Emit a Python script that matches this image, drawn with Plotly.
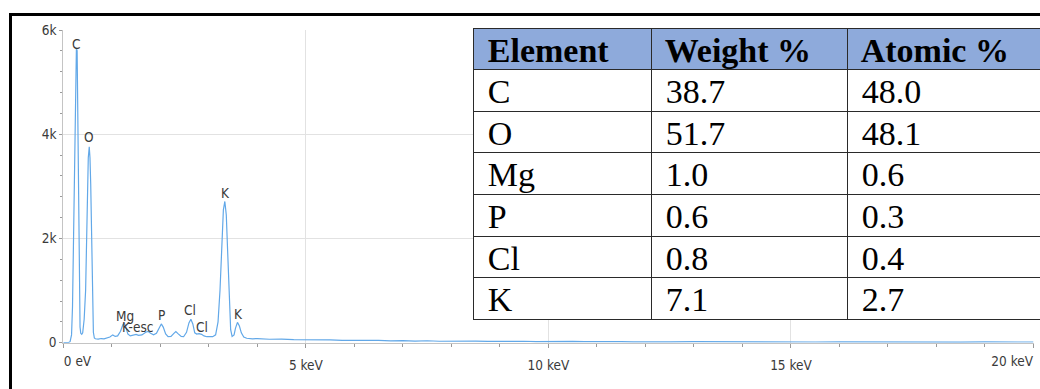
import plotly.graph_objects as go

# ---------------- data ----------------
energy_kev = [0.00, 0.05, 0.10, 0.14, 0.17, 0.19, 0.21, 0.23, 0.25, 0.27, 0.285, 0.30, 0.315, 0.33, 0.345,
              0.36, 0.38, 0.40, 0.43, 0.46, 0.48, 0.49, 0.50, 0.515, 0.535, 0.55, 0.565, 0.58, 0.60, 0.62,
              0.64, 0.66, 0.72, 0.78, 0.84, 0.90, 0.96, 1.02, 1.07, 1.12, 1.18, 1.23, 1.26, 1.29, 1.33,
              1.38, 1.44, 1.50, 1.55, 1.62, 1.70, 1.75, 1.80, 1.86, 1.92, 1.97, 2.02, 2.06, 2.11, 2.16,
              2.22, 2.28, 2.32, 2.37, 2.43, 2.48, 2.54, 2.59, 2.63, 2.67, 2.71, 2.75, 2.80, 2.85, 2.90,
              2.96, 3.02, 3.08, 3.14, 3.19, 3.23, 3.27, 3.30, 3.33, 3.36, 3.39, 3.42, 3.45, 3.48, 3.52,
              3.55, 3.59, 3.63, 3.67, 3.72, 3.78, 3.90, 4.00, 4.25, 4.50, 4.75, 5.00, 5.25, 5.50, 5.75,
              6.00, 6.25, 6.50, 6.75, 7.00, 7.25, 7.50, 7.75, 8.00, 8.25, 8.50, 8.75, 9.00, 9.25, 9.50,
              9.75, 10.0, 10.25, 10.5, 10.75, 11.0, 11.25, 11.5, 11.75, 12.0, 12.5, 13.0, 13.5, 14.0,
              14.5, 15.0, 15.5, 16.0, 16.5, 17.0, 17.5, 18.0, 18.5, 19.0, 19.5, 20.0]
counts = [0, 0, 0, 20, 150, 700, 2000, 3600, 5100, 5650, 5600, 4300, 2600, 1000, 300,
          180, 160, 190, 450, 1000, 1800, 2600, 3000, 3550, 3760, 3550, 3050, 2000, 800, 200,
          90, 75, 70, 80, 75, 90, 110, 150, 120, 130, 220, 350, 375, 300, 170,
          130, 140, 160, 140, 150, 200, 215, 180, 150, 180, 280, 360, 300, 170, 115,
          120, 180, 215, 170, 120, 115, 200, 380, 450, 360, 190, 165, 175, 160, 130,
          115, 110, 115, 150, 400, 1000, 1900, 2550, 2710, 2450, 1700, 800, 250, 120, 150,
          280, 390, 320, 190, 110, 85, 75, 80, 66, 70, 58, 60, 48, 54, 44,
          47, 38, 44, 34, 40, 30, 37, 28, 34, 26, 32, 24, 30, 22, 28,
          21, 27, 20, 25, 19, 24, 18, 22, 17, 21, 16, 19, 15, 18,
          14, 17, 13, 16, 13, 15, 12, 15, 12, 14, 12, 13]

peak_labels = ["C", "O", "Mg", "K-esc", "P", "Cl", "Cl", "K", "K"]
peak_label_kev = [0.26, 0.53, 1.266, 1.536, 2.03, 2.62, 2.85, 3.34, 3.61]
peak_label_counts = [5732, 3938, 516, 292, 532, 628, 292, 2882, 551]

x_tick_vals = [0, 5, 10, 15, 20]
x_tick_text = ["", "5 keV", "10 keV", "15 keV", ""]
y_tick_vals = [0, 2000, 4000, 6000]
y_tick_text = ["0", "2k", "4k", "6k"]

table_header = ["Element", "Weight %", "Atomic %"]
elements = ["C", "O", "Mg", "P", "Cl", "K"]
weight_pct = [38.7, 51.7, 1.0, 0.6, 0.8, 7.1]
atomic_pct = [48.0, 48.1, 0.6, 0.3, 0.4, 2.7]

# ---------------- styling ----------------
W, H = 1040, 389
SANS = "Noto Sans Condensed, Liberation Sans Narrow, DejaVu Sans Condensed, Liberation Sans, sans-serif"
SERIF = "Times New Roman, Liberation Serif, serif"
TXT = "#3a3a3a"
THIN = "\u2009"
HAIR = "\u200a"

x_dom = [63.3 / W, 1033.5 / W]
y_dom = [1 - 342.7 / H, 1 - 30.0 / H]

fig = go.Figure()

fig.add_trace(go.Scatter(
    x=energy_kev, y=counts, mode="lines",
    line=dict(color="#62a8e8", width=1.2),
    showlegend=False, hoverinfo="skip"))

# dummy traces so the label-only overlay axes exist
fig.add_trace(go.Scatter(x=[], y=[], xaxis="x2", showlegend=False, hoverinfo="skip"))
fig.add_trace(go.Scatter(x=[], y=[], xaxis="x3", showlegend=False, hoverinfo="skip"))

labelfont = dict(family=SANS, size=13.5, color=TXT)
for name, xv, yv in zip(peak_labels, peak_label_kev, peak_label_counts):
    fig.add_annotation(x=xv, y=yv, xref="x", yref="y", text=name, showarrow=False,
                       xanchor="center", yanchor="middle", borderpad=0,
                       font=labelfont)

fig.add_trace(go.Table(
    domain=dict(x=[473 / W, 1.0], y=[1 - 324 / H, 1 - 28.3 / H]),
    columnwidth=[178, 196, 193],
    header=dict(values=table_header, fill_color="#8eaadb",
                line=dict(color="#2a2a2a", width=1),
                font=dict(family=SERIF, size=34, color="black", weight="bold"),
                align="left", height=41, prefix=[THIN, HAIR, HAIR]),
    cells=dict(values=[elements, weight_pct, atomic_pct], format=["", ".1f", ".1f"],
               fill_color="white", line=dict(color="#2a2a2a", width=1),
               font=dict(family=SERIF, size=34, color="black"),
               align="left", height=41.7, prefix=THIN)))

tickfont = dict(family=SANS, size=13.5, color=TXT)

fig.update_layout(
    width=W, height=H, margin=dict(l=0, r=0, t=0, b=0, pad=0, autoexpand=False),
    paper_bgcolor="white", plot_bgcolor="white", showlegend=False,
    xaxis=dict(domain=x_dom, range=[0, 20], tickmode="array", tickvals=x_tick_vals,
               ticktext=x_tick_text, showgrid=True, gridcolor="#e2e2e2", gridwidth=1,
               zeroline=False, showline=True, linecolor="#c4c4c4", linewidth=1,
               ticks="outside", ticklen=4, tickcolor="#9a9a9a", tickfont=tickfont,
               ticklabelstandoff=6, automargin=False,
               minor=dict(dtick=1, tick0=0, ticks="outside", ticklen=3,
                          tickcolor="#9a9a9a", showgrid=False),
               fixedrange=True),
    xaxis2=dict(overlaying="x", anchor="y", range=[0, 20], tickmode="array",
                tickvals=[0], ticktext=["0 eV"], ticklabelposition="outside right",
                showgrid=False, zeroline=False, showline=False, ticks="outside",
                ticklen=4, tickcolor="rgba(0,0,0,0)", tickfont=tickfont, side="bottom",
                ticklabelstandoff=6, automargin=False),
    xaxis3=dict(overlaying="x", anchor="y", range=[0, 20], tickmode="array",
                tickvals=[20], ticktext=["20 keV"], ticklabelposition="outside left",
                showgrid=False, zeroline=False, showline=False, ticks="outside",
                ticklen=4, tickcolor="rgba(0,0,0,0)", tickfont=tickfont, side="bottom",
                ticklabelstandoff=6, automargin=False),
    yaxis=dict(domain=y_dom, range=[0, 6000], tickmode="array", tickvals=y_tick_vals,
               ticktext=y_tick_text, showgrid=True, gridcolor="#e2e2e2", gridwidth=1,
               zeroline=False, showline=True, linecolor="#c4c4c4", linewidth=1,
               ticks="outside", ticklen=3, tickcolor="#9a9a9a", tickfont=tickfont,
               automargin=False,
               minor=dict(dtick=400, tick0=0, ticks="outside", ticklen=2,
                          tickcolor="#9a9a9a", showgrid=False),
               fixedrange=True),
)

# thick outer frame (extends past the right and bottom edges)
fig.add_shape(type="rect", xref="paper", yref="paper",
              x0=10.5 / W, x1=1.05, y0=-0.05, y1=1 - 14.5 / H,
              line=dict(color="black", width=3), fillcolor="rgba(0,0,0,0)")

fig.write_html("out.html")
